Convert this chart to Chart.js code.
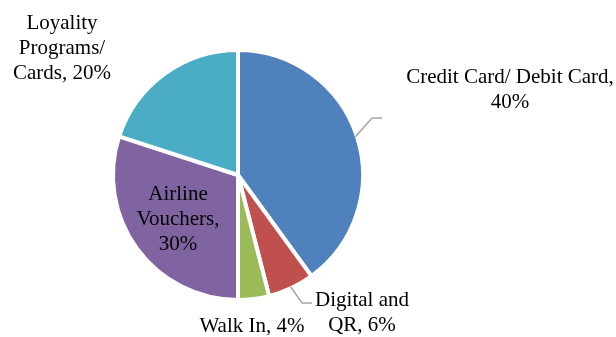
<!DOCTYPE html>
<html>
<head>
<meta charset="utf-8">
<script src="https://cdn.jsdelivr.net/npm/chart.js@4.4.1/dist/chart.umd.min.js"></script>
<style>
  html, body { margin: 0; padding: 0; background: #fff; }
  #wrap { width: 616px; height: 337px; }
</style>
</head>
<body>
<div id="wrap"><canvas id="payChart"></canvas></div>
<script>
// Payment channels, clockwise from 12 o'clock
const categories = ['Credit Card/ Debit Card', 'Digital and QR', 'Walk In', 'Airline Vouchers', 'Loyality Programs/ Cards'];
const shares = [40, 6, 4, 30, 20];
const sliceColors = ['#4F81BD', '#C0504D', '#9BBB59', '#8064A2', '#4BACC6'];

// where each label sits (centre x, first baseline y), wrap width, and whether it gets a leader line
const labelSpots = [
  { x: 510, y: 83, wrap: 215, leader: [[372, 118], [382, 118]] },
  { x: 362, y: 306, wrap: 100, leader: [[302, 303], [312, 303]] },
  { x: 252, y: 332, wrap: 120 },
  { x: 178, y: 200, wrap: 95 },
  { x: 62, y: 29, wrap: 100 }
];

const FONT = '21px "Liberation Serif", "Times New Roman", serif';
const LINE_H = 25;

function wrapText(ctx, text, maxW) {
  const words = text.split(' ');
  const lines = [];
  let cur = '';
  for (let w of words) {
    const test = cur ? cur + ' ' + w : w;
    if (cur && ctx.measureText(test).width > maxW) {
      lines.push(cur);
      cur = w;
    } else {
      cur = test;
    }
  }
  if (cur) lines.push(cur);
  return lines;
}

const sliceLabels = {
  id: 'sliceLabels',
  afterDatasetsDraw(chart) {
    const ctx = chart.ctx;
    const arcs = chart.getDatasetMeta(0).data;
    ctx.save();
    ctx.font = FONT;
    ctx.fillStyle = '#000';
    ctx.textAlign = 'center';
    ctx.textBaseline = 'alphabetic';
    arcs.forEach((arc, i) => {
      const spot = labelSpots[i];
      // leader line starts at the middle of the slice's outer edge
      if (spot.leader) {
        const p = arc.getProps(['x', 'y', 'startAngle', 'endAngle', 'outerRadius'], true);
        const mid = (p.startAngle + p.endAngle) / 2;
        const r = p.outerRadius - 1.5;
        ctx.beginPath();
        ctx.moveTo(p.x + Math.cos(mid) * r, p.y + Math.sin(mid) * r);
        spot.leader.forEach(pt => ctx.lineTo(pt[0], pt[1]));
        ctx.strokeStyle = '#A6A6A6';
        ctx.lineWidth = 1.5;
        ctx.stroke();
      }
      const text = categories[i] + ', ' + shares[i] + '%';
      wrapText(ctx, text, spot.wrap).forEach((line, k) => {
        ctx.fillText(line, spot.x, spot.y + k * LINE_H);
      });
    });
    ctx.restore();
  }
};

new Chart(document.getElementById('payChart'), {
  type: 'pie',
  data: {
    labels: categories,
    datasets: [{
      data: shares,
      backgroundColor: sliceColors,
      borderColor: '#FFFFFF',
      borderWidth: 4
    }]
  },
  options: {
    responsive: true,
    maintainAspectRatio: false,
    animation: false,
    events: [],
    layout: { padding: { top: 48, bottom: 35, left: 111, right: 251 } },
    plugins: {
      legend: { display: false },
      tooltip: { enabled: false }
    }
  },
  plugins: [sliceLabels]
});
</script>
</body>
</html>
